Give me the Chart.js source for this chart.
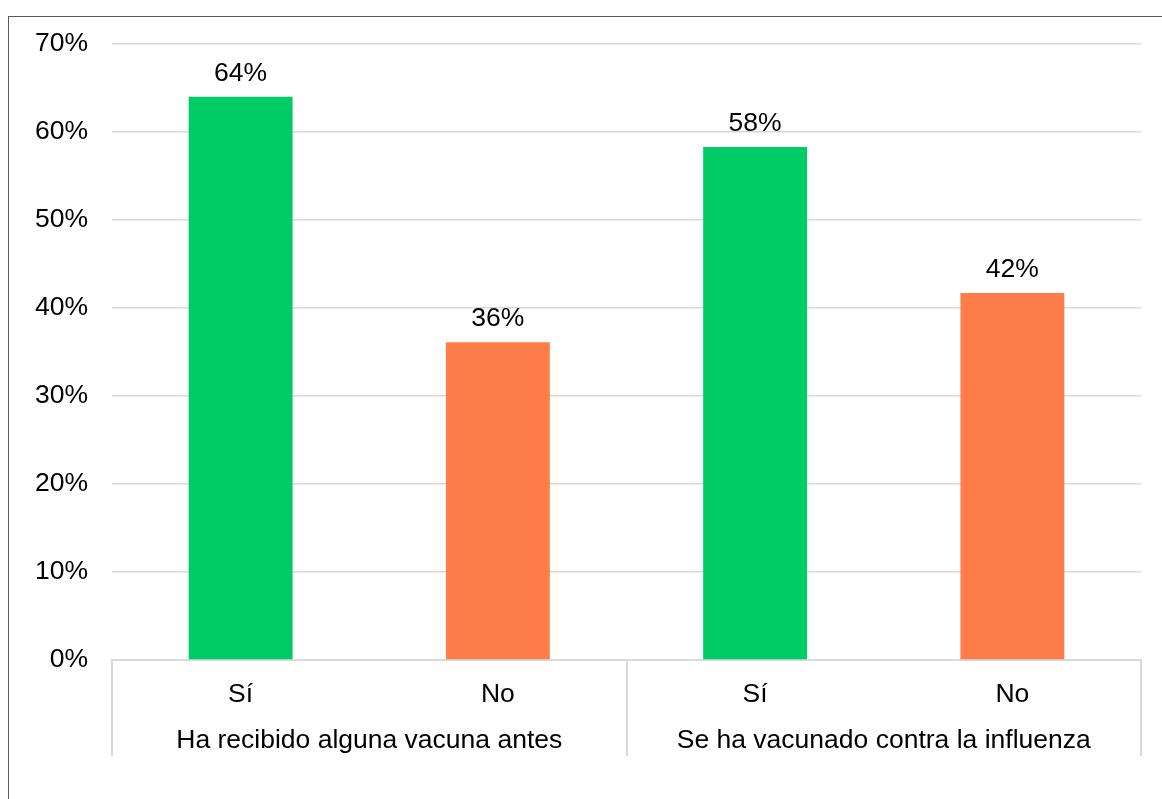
<!DOCTYPE html>
<html>
<head>
<meta charset="utf-8">
<script src="https://cdn.jsdelivr.net/npm/chart.js@4.4.1/dist/chart.umd.min.js"></script>
<style>
  html, body { margin: 0; padding: 0; background: #fff; }
  canvas { display: block; }
</style>
</head>
<body>
<canvas id="grafico" width="1162" height="799"></canvas>
<script>
// ---------- Datos
const categorias = ['Sí', 'No', 'Sí', 'No'];
const grupos = ['Ha recibido alguna vacuna antes', 'Se ha vacunado contra la influenza'];
const grupoDeCategoria = [0, 0, 1, 1];
const valores = [0.64, 0.361, 0.583, 0.417];
const etiquetas = ['64%', '36%', '58%', '42%'];
const colores = ['#00CC66', '#FF7D49', '#00CC66', '#FF7D49'];
const ticksY = [0, 0.1, 0.2, 0.3, 0.4, 0.5, 0.6, 0.7];

const FUENTE = "'Liberation Sans', Arial, sans-serif";
const TAM = 26.5;
const GRIS = '#d9d9d9';

// ---------- Extras: etiquetas de valor, grupos del eje X y marco
const extras = {
  id: 'extras',
  afterDatasetsDraw(chart) {
    const ctx = chart.ctx;
    const meta = chart.getDatasetMeta(0);
    ctx.save();
    ctx.font = `${TAM}px ${FUENTE}`;
    ctx.fillStyle = '#000';
    ctx.textAlign = 'center';
    ctx.textBaseline = 'alphabetic';
    meta.data.forEach((bar, i) => {
      ctx.fillText(etiquetas[i], bar.x, bar.y - 16);
    });
    ctx.restore();
  },
  afterDraw(chart) {
    const ctx = chart.ctx;
    const x = chart.scales.x;
    const base = chart.chartArea.bottom;
    ctx.save();

    // separadores de grupo
    const limites = [x.left];
    for (let i = 1; i < categorias.length; i++) {
      if (grupoDeCategoria[i] !== grupoDeCategoria[i - 1]) {
        limites.push((x.getPixelForValue(i - 1) + x.getPixelForValue(i)) / 2);
      }
    }
    limites.push(x.right);
    ctx.strokeStyle = GRIS;
    ctx.lineWidth = 2;
    limites.forEach(px => {
      ctx.beginPath();
      ctx.moveTo(Math.round(px), base);
      ctx.lineTo(Math.round(px), base + 96);
      ctx.stroke();
    });

    // nombres de grupo
    ctx.font = `${TAM}px ${FUENTE}`;
    ctx.fillStyle = '#000';
    ctx.textAlign = 'center';
    ctx.textBaseline = 'alphabetic';
    grupos.forEach((g, gi) => {
      const idx = grupoDeCategoria.map((v, i) => v === gi ? i : -1).filter(i => i >= 0);
      const cx = (x.getPixelForValue(idx[0]) + x.getPixelForValue(idx[idx.length - 1])) / 2;
      ctx.fillText(g, cx, base + 88);
    });

    // marco exterior
    ctx.strokeStyle = '#595959';
    ctx.lineWidth = 1;
    ctx.strokeRect(8.5, 16.5, 1300, 1000);
    ctx.restore();
  }
};

new Chart(document.getElementById('grafico'), {
  type: 'bar',
  data: {
    labels: categorias,
    datasets: [{
      data: valores,
      backgroundColor: colores,
      borderWidth: 0,
      categoryPercentage: 1,
      barPercentage: 0.404
    }]
  },
  options: {
    responsive: false,
    animation: false,
    layout: { padding: { top: 44, right: 21, bottom: 0, left: 0 } },
    plugins: {
      legend: { display: false },
      tooltip: { enabled: false }
    },
    scales: {
      x: {
        afterFit: s => { s.height = 139; },
        grid: { display: false, drawTicks: false },
        border: { display: true, color: GRIS, width: 2 },
        ticks: {
          color: '#000',
          padding: 19,
          font: { family: FUENTE, size: TAM }
        }
      },
      y: {
        min: 0,
        max: 0.7,
        afterFit: s => { s.width = 112; },
        afterBuildTicks: s => { s.ticks = ticksY.map(v => ({ value: v })); },
        grid: { color: GRIS, lineWidth: 1.5, drawTicks: false },
        border: { display: false },
        ticks: {
          color: '#000',
          padding: 24,
          font: { family: FUENTE, size: TAM },
          callback: v => Math.round(v * 100) + '%'
        }
      }
    }
  },
  plugins: [extras]
});
</script>
</body>
</html>
